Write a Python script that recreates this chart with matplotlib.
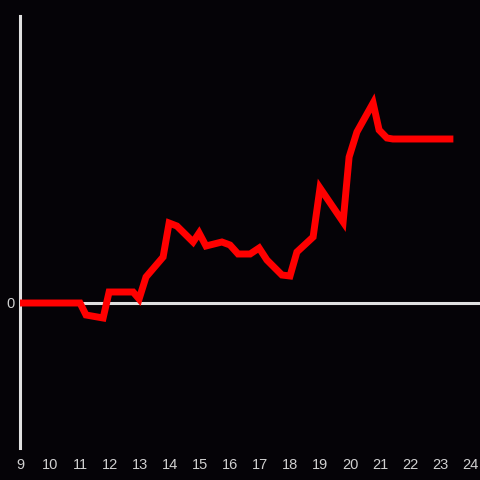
import matplotlib
matplotlib.use('Agg')
import matplotlib.pyplot as plt

# hour of day vs. running value
hours = [9.0, 11.0, 11.2, 11.77, 11.97, 12.77, 12.97, 13.2, 13.77, 13.97, 14.23,
         14.77, 14.97, 15.2, 15.73, 16.0, 16.27, 16.67, 16.97, 17.23, 17.73, 18.0,
         18.23, 18.77, 19.0, 19.77, 19.97, 20.23, 20.77, 20.97, 21.23, 21.43, 23.33]
values = [0, 0, -12, -15, 11, 11, 4, 26, 46, 80, 77,
          61, 70, 57, 61, 58, 49, 49, 55, 43, 28, 27,
          51, 66, 115, 81, 146, 171, 200, 173, 165, 164, 164]
xticks = list(range(9, 25))

bg = '#050307'
fig = plt.figure(figsize=(4.8, 4.8), dpi=100, facecolor=bg)
ax = fig.add_axes([20/480, 32/480, 460/480, 432/480])
ax.set_facecolor(bg)

ax.plot(hours, values, color='#ff0000', linewidth=5, solid_joinstyle='miter', zorder=3)
ax.axhline(0, color='#e0e0e0', linewidth=2.2, zorder=2)

ax.set_xlim(9, 24.333)
ax.set_ylim(-145, 287)
ax.set_xticks(xticks)
ax.set_yticks([0])
ax.tick_params(length=0, colors='#d0d0d0', labelsize=10.5)
ax.tick_params(axis='x', pad=7)
ax.tick_params(axis='y', pad=4)
for lab in ax.get_xticklabels() + ax.get_yticklabels():
    lab.set_family('Liberation Sans')

for s in ['top', 'right', 'bottom']:
    ax.spines[s].set_visible(False)
ax.spines['left'].set_color('#e0e0e0')
ax.spines['left'].set_linewidth(2.2)

fig.savefig('out.png', dpi=100, facecolor=bg)
